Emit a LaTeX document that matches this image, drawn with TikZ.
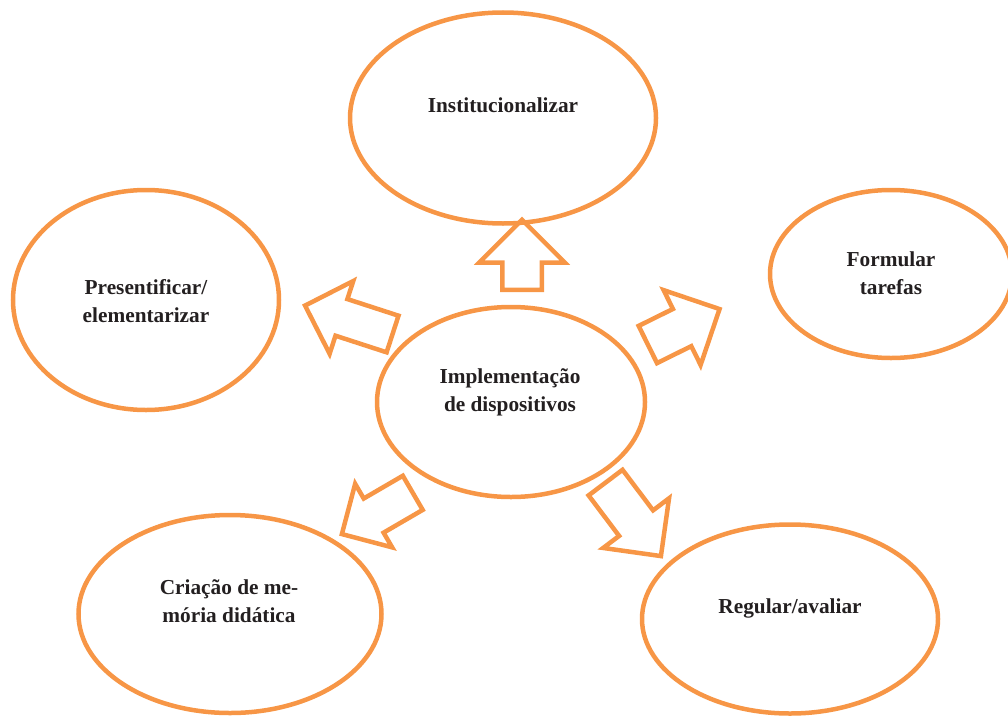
\documentclass[tikz,border=0pt]{standalone}
\usepackage{fontspec}
\setmainfont{Liberation Serif}
\usetikzlibrary{shapes.geometric, shapes.arrows}

\definecolor{laranja}{HTML}{F79646}
\definecolor{tinta}{HTML}{231F20}

\tikzset{
	bolha/.style={ellipse, draw=laranja, line width=4.5pt, inner sep=0pt},
	rotulo/.style={align=center, text=tinta, inner sep=0pt, font=\fontsize{21.3}{28}\selectfont\bfseries},
	seta/.style={single arrow, draw=laranja, line width=4.5pt, inner xsep=0pt, single arrow tip angle=90, anchor=tail}
}

\begin{document}
\begin{tikzpicture}[x=1pt, y=-1pt]
		\useasboundingbox (0,0) rectangle (1008,717);

		\node [bolha, minimum width=306pt, minimum height=211pt] (inst) at (503,118) {};
		\node [bolha, minimum width=266pt, minimum height=220pt] (pres) at (146,300) {};
		\node [bolha, minimum width=242pt, minimum height=168pt] (form) at (891,274) {};
		\node [bolha, minimum width=268pt, minimum height=190pt] (impl) at (511,402) {};
		\node [bolha, minimum width=303pt, minimum height=198pt] (cria) at (230,614) {};
		\node [bolha, minimum width=296pt, minimum height=189pt] (regu) at (790,619) {};

		\node [rotulo, anchor=base] (tinst) at (503,112) {Institucionalizar};
		\node [rotulo] (tpres) at (146,301) {Presentificar/\\elementarizar};
		\node [rotulo] (tform) at (891,273.5) {Formular\\tarefas};
		\node [rotulo] (timpl) at (510,392) {Implementação\\de dispositivos};
		\node [rotulo] (tcria) at (229,601.5) {Criação de me-\\mória didática};
		\node [rotulo, anchor=base] (tregu) at (790,613) {Regular/avaliar};

		\node [seta, rotate=90, minimum height=70pt, inner ysep=17.5pt, single arrow head extend=23pt] (sinst) at (522,292) {};
		\node [seta, rotate=162, minimum height=92pt, inner ysep=17pt, single arrow head extend=19pt] (spres) at (394.7,334.7) {};
		\node [seta, rotate=26.3, minimum height=80pt, inner ysep=18.5pt, single arrow head extend=21pt] (sform) at (645.8,345.5) {};
		\node [seta, rotate=210.2, minimum height=82pt, inner ysep=17.5pt, single arrow head extend=17pt] (scria) at (414.7,491.7) {};
		\node [seta, rotate=-53, minimum height=92pt, inner ysep=19pt, single arrow head extend=20pt] (sregu) at (604.2,480.8) {};
	\end{tikzpicture}
\end{document}
